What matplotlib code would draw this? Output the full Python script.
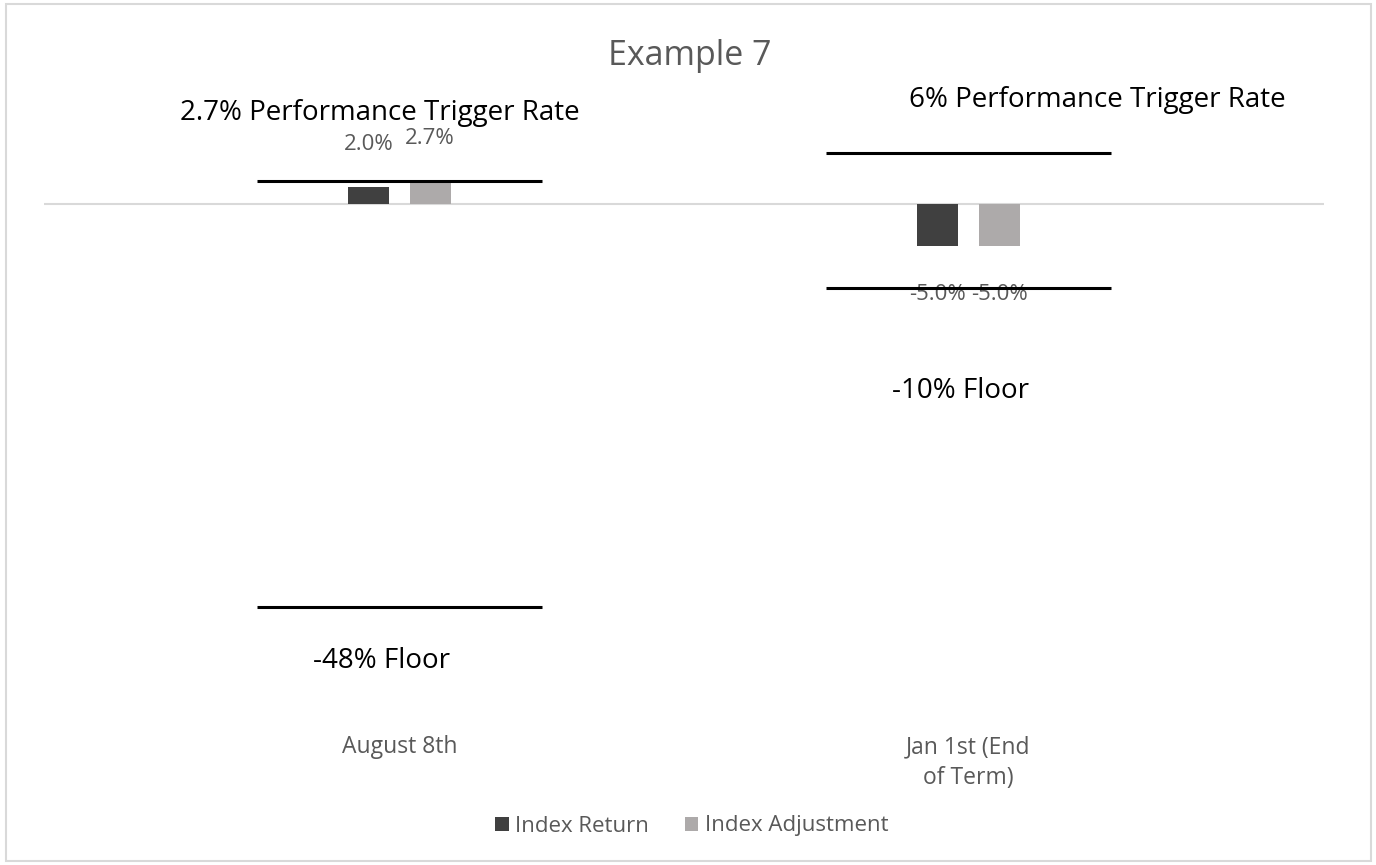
import numpy as np
import matplotlib.pyplot as plt
from matplotlib.patches import Rectangle

plt.rcParams['font.family'] = ['Open Sans', 'DejaVu Sans']

# data
categories = ["August 8th", "Jan 1st (End\nof Term)"]
index_return = [2.0, -5.0]
index_adjustment = [2.7, -5.0]
trigger_rate = [2.7, 6.0]
floor_rate = [-48.0, -10.0]
trigger_labels = ["2.7% Performance Trigger Rate", "6% Performance Trigger Rate"]
floor_labels = ["-48% Floor", "-10% Floor"]

dark = "#404040"
light = "#ADAAAA"
grey_txt = "#595959"

fig = plt.figure(figsize=(13.76, 8.65), dpi=100)
ax = fig.add_axes([44/1376, (865-707.5)/865, 1280/1376, (707.5-119.5)/865])

x = np.arange(len(categories))
w = 0.072
off = 0.054
b1 = ax.bar(x - off, index_return, w, color=dark, label="Index Return", zorder=3)
b2 = ax.bar(x + off, index_adjustment, w, color=light, label="Index Adjustment", zorder=3)

ax.axhline(0, color="#D9D9D9", lw=1.5, zorder=1)

# trigger and floor lines for each date
for i in x:
    ax.hlines(trigger_rate[i], i - 0.25, i + 0.25, color="black", lw=2.2, zorder=4)
    ax.hlines(floor_rate[i], i - 0.25, i + 0.25, color="black", lw=2.2, zorder=4)

# labels for the lines (moved around like in the original)
trig_off = [(-20, 68), (129, 53)]
floor_off = [(-18, -54), (-8, -103)]
for i in x:
    ax.annotate(trigger_labels[i], (i, trigger_rate[i]), xytext=trig_off[i],
                textcoords="offset pixels", ha="center", va="center",
                fontsize=20, color="black", annotation_clip=False)
    ax.annotate(floor_labels[i], (i, floor_rate[i]), xytext=floor_off[i],
                textcoords="offset pixels", ha="center", va="center",
                fontsize=20, color="black", annotation_clip=False)

# bar value labels
for bars, vals in [(b1, index_return), (b2, index_adjustment)]:
    for rect, v in zip(bars, vals):
        cx = rect.get_x() + rect.get_width() / 2
        dy = 42 if v > 0 else -49
        ax.annotate(f"{v:.1f}%", (cx, v), xytext=(0, dy), textcoords="offset pixels",
                    ha="center", va="center", fontsize=16, color=grey_txt,
                    annotation_clip=False)

ax.set_xlim((44-399.5)/569, (1324-399.5)/569)
ax.set_ylim(-60, 10)
ax.set_xticks(x)
ax.set_xticklabels(categories, color=grey_txt, fontsize=16.5, linespacing=1.4, va="top")
ax.tick_params(axis="x", length=0, pad=20)
ax.set_yticks([])
for s in ax.spines.values():
    s.set_visible(False)

fig.text(690/1376, 1 - 56/865, "Example 7", ha="center", va="center",
         fontsize=24.5, color=grey_txt)

fig.legend(handles=[b1, b2], loc="center", bbox_to_anchor=(692/1376, 1 - 826/865),
           ncol=2, frameon=False, fontsize=16, labelcolor=grey_txt,
           handlelength=0.6, handleheight=0.6, handletextpad=0.3, columnspacing=1.6)

fig.patches.append(Rectangle((6/1376, 4/865), 1365/1376, 857/865, transform=fig.transFigure,
                             fill=False, edgecolor="#D9D9D9", lw=1.5))

fig.savefig("out.png", dpi=100)
